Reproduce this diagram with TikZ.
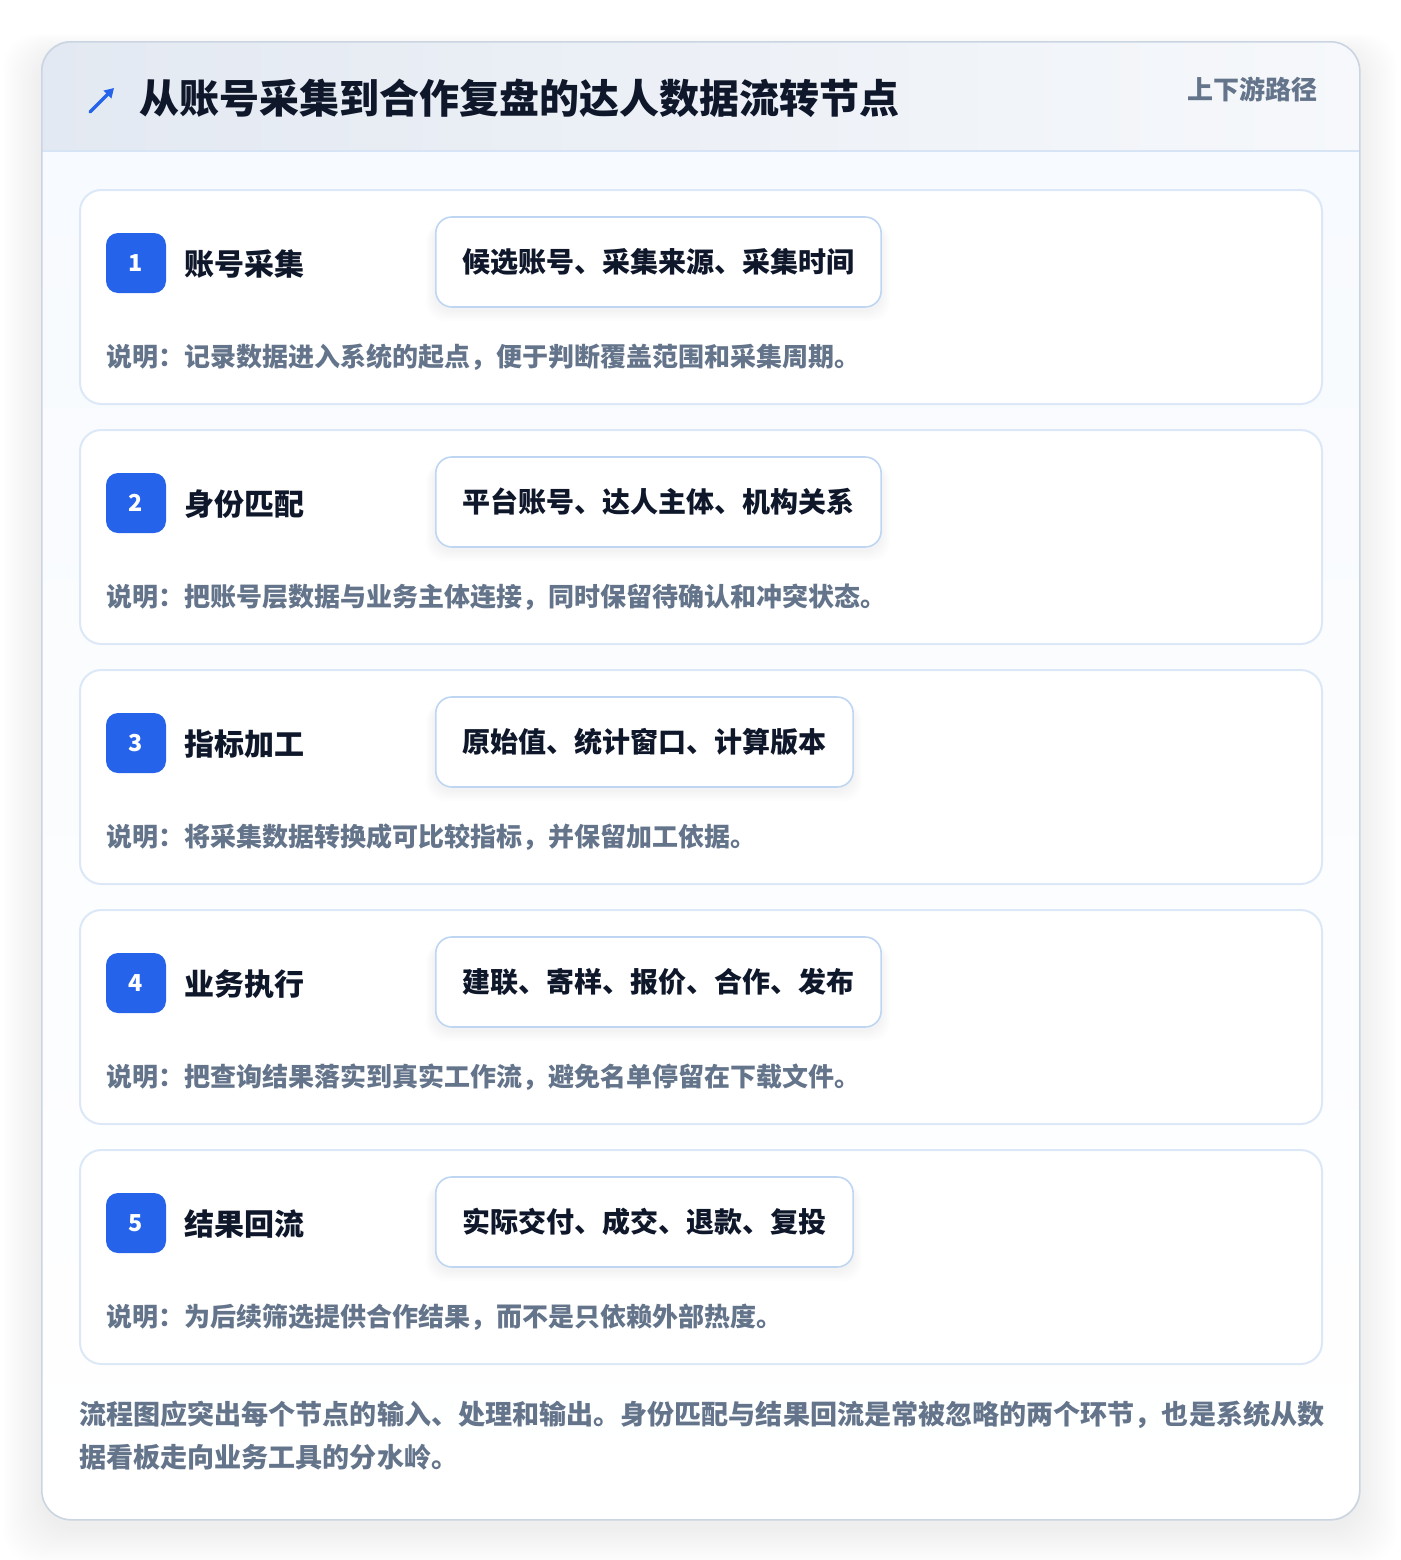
\documentclass[tikz,border=0pt]{standalone}
\usepackage{fontspec}
\setmainfont{Noto Sans CJK SC}
\usetikzlibrary{arrows.meta}
\definecolor{ink}{HTML}{0F172A}
\definecolor{muted}{HTML}{64748B}
\definecolor{accent}{HTML}{2563EB}
\definecolor{outerline}{HTML}{CBD5E1}
\definecolor{cardline}{HTML}{DCE8F7}
\definecolor{fieldline}{HTML}{BFD6F3}
\definecolor{headL}{HTML}{E3E9F2}
\definecolor{headR}{HTML}{F6F8FB}
\definecolor{headline}{HTML}{D6E4F5}
\definecolor{bodytop}{HTML}{F7FAFE}
\tikzset{
  cardbox/.style={fill=white, draw=cardline, line width=1.5pt, rounded corners=16pt},
  badgebox/.style={fill=accent, text=white, rounded corners=9pt, minimum width=45pt, minimum height=45pt, inner sep=0pt, font=\bfseries\fontsize{17.5}{20}\selectfont},
  cardtitle/.style={anchor=west, text=ink, inner sep=0pt, font=\bfseries\fontsize{22.5}{26}\selectfont},
  fieldbox/.style={anchor=west, fill=white, draw=fieldline, line width=1.2pt, rounded corners=12pt, inner xsep=20pt, minimum height=67.5pt, text=ink, font=\bfseries\fontsize{21}{24}\selectfont},
  desctext/.style={anchor=west, text=muted, inner sep=0pt, font=\bfseries\fontsize{19.5}{23}\selectfont},
  foottext/.style={anchor=west, text=muted, inner sep=0pt, font=\bfseries\fontsize{20.3}{25}\selectfont},
}
\begin{document}
\begin{tikzpicture}[x=0.75pt,y=-0.75pt]
\useasboundingbox (0,0) rectangle (1400,1560);
\fill[white] (0,0) rectangle (1400,1560);
% outer shadow
\foreach \k in {0,...,16}{
  \fill[black, opacity=0.0045, rounded corners=26pt]
    ({41-2.4*\k},{41+12-1.2*\k}) rectangle ({1359+2.4*\k},{1519+10+2.2*\k});
}
% outer card
\begin{scope}
  \clip[rounded corners=22pt] (41,41) rectangle (1359,1519);
  \shade[top color=bodytop, bottom color=white] (41,151) rectangle (1359,1519);
  \shade[left color=headL, right color=headR] (41,41) rectangle (1359,151);
\end{scope}
\draw[headline, line width=1.2pt] (41,151) -- (1359,151);
\node[draw=outerline, line width=1.2pt, rounded corners=22pt, minimum width=988.5pt, minimum height=1108.5pt, inner sep=0pt, anchor=north west] (outer) at (41,41) {};
% header
\coordinate (iconA) at (90,112);
\coordinate (iconB) at (114,88);
\draw[accent, line width=2.6pt, line cap=round, -{Triangle[length=7pt,width=8pt]}] (iconA) -- (iconB);
\node[anchor=west, text=ink, inner sep=0pt, font=\bfseries\fontsize{30}{34}\selectfont] (title) at (139,98) {从账号采集到合作复盘的达人数据流转节点};
\node[anchor=east, text=muted, inner sep=0pt, font=\bfseries\fontsize{19.5}{23}\selectfont] (tag) at (1318,89) {上下游路径};
% cards
\foreach \i/\t/\f/\d in {
  1/账号采集/候选账号、采集来源、采集时间/说明：记录数据进入系统的起点，便于判断覆盖范围和采集周期。,
  2/身份匹配/平台账号、达人主体、机构关系/说明：把账号层数据与业务主体连接，同时保留待确认和冲突状态。,
  3/指标加工/原始值、统计窗口、计算版本/说明：将采集数据转换成可比较指标，并保留加工依据。,
  4/业务执行/建联、寄样、报价、合作、发布/说明：把查询结果落实到真实工作流，避免名单停留在下载文件。,
  5/结果回流/实际交付、成交、退款、复投/说明：为后续筛选提供合作结果，而不是只依赖外部热度。}{
  \pgfmathsetmacro{\top}{189+240*(\i-1)}
  \node[cardbox, anchor=north west, minimum width=931.5pt, minimum height=160.5pt, inner sep=0pt] (card\i) at (79,\top) {};
  \node[badgebox] (badge\i) at (136,\top+74) {\i};
  \node[cardtitle] (ctitle\i) at (184,\top+75) {\t};
  \foreach \s in {1,...,6}{
    \fill[black, opacity=0.008, rounded corners=14pt] ({435-1.5*\s},{\top+28+6}) rectangle ({435+(\i==3||\i==5?418:446)+1.5*\s},{\top+118+3+1.8*\s});
  }
  \node[fieldbox] (field\i) at (435,\top+73) {\f};
  \node[desctext] (desc\i) at (106,\top+168) {\d};
}
% footer
\node[foottext] (foot1) at (79,1415) {流程图应突出每个节点的输入、处理和输出。身份匹配与结果回流是常被忽略的两个环节，也是系统从数};
\node[foottext] (foot2) at (79,1457) {据看板走向业务工具的分水岭。};
\end{tikzpicture}
\end{document}
